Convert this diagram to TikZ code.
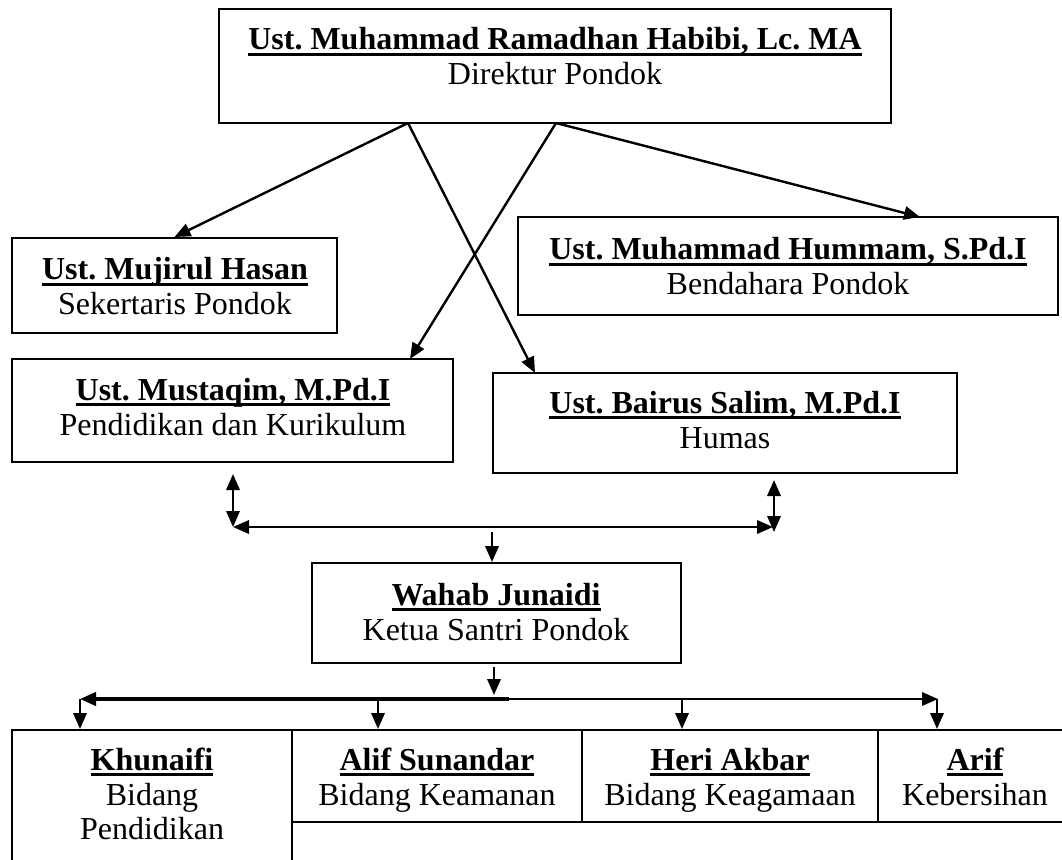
\documentclass[tikz,border=0pt]{standalone}
\usepackage{fontspec}
\setmainfont{Liberation Serif}
\usetikzlibrary{arrows.meta}
\frenchspacing

\newdimen\px \px=0.375pt
% nama dengan garis bawah tebal
\newcommand\nama[1]{\setbox0=\hbox{\bfseries #1}\rlap{\rule[-2.4pt]{\wd0}{1.2pt}}\box0}

\begin{document}
\begin{tikzpicture}[x=0.375pt,y=-0.375pt,>={Triangle[length=6pt,width=5pt]},font=\fontsize{12}{13}\selectfont]
    \tikzstyle{kotak}=[rectangle,draw,line width=0.75pt,inner sep=0pt]
    \tikzstyle{nama}=[anchor=base,inner sep=0pt]
    \tikzstyle{jabatan}=[anchor=base,inner sep=0pt]
    \tikzstyle{garis}=[->,line width=0.9pt]

    \useasboundingbox (0,0) rectangle (1062,859);
    \clip (0,0) rectangle (1062,859);

    % pengurus
    \node [kotak,minimum width=672\px,minimum height=114\px] (direktur) at (555,66) {};
    \node [nama]    (direkturN) at (555,50) {\nama{Ust. Muhammad Ramadhan Habibi, Lc. MA}};
    \node [jabatan] (direkturJ) at (555,85) {Direktur Pondok};

    \node [kotak,minimum width=325\px,minimum height=95\px] (sekretaris) at (174.5,285.5) {};
    \node [nama]    (sekretarisN) at (175,280) {\nama{Ust. Mujirul Hasan}};
    \node [jabatan] (sekretarisJ) at (175,315) {Sekertaris Pondok};

    \node [kotak,minimum width=540\px,minimum height=98\px] (bendahara) at (788,266) {};
    \node [nama]    (bendaharaN) at (788,260) {\nama{Ust. Muhammad Hummam, S.Pd.I}};
    \node [jabatan] (bendaharaJ) at (788,295) {Bendahara Pondok};

    \node [kotak,minimum width=441\px,minimum height=103\px] (kurikulum) at (232.5,410.5) {};
    \node [nama]    (kurikulumN) at (233,400) {\nama{Ust. Mustaqim, M.Pd.I}};
    \node [jabatan] (kurikulumJ) at (233,435) {Pendidikan dan Kurikulum};

    \node [kotak,minimum width=464\px,minimum height=100\px] (humas) at (725,423) {};
    \node [nama]    (humasN) at (725,413) {\nama{Ust. Bairus Salim, M.Pd.I}};
    \node [jabatan] (humasJ) at (725,448) {Humas};

    \node [kotak,minimum width=369\px,minimum height=100\px] (ketua) at (496.5,613) {};
    \node [nama]    (ketuaN) at (496,605) {\nama{Wahab Junaidi}};
    \node [jabatan] (ketuaJ) at (496,640) {Ketua Santri Pondok};

    % bidang
    \node [kotak,minimum width=280\px,minimum height=140\px] (pendidikan) at (152,800) {};
    \node [nama]    (pendidikanN) at (152,770) {\nama{Khunaifi}};
    \node [jabatan] (pendidikanJ) at (152,805) {Bidang};
    \node [jabatan] (pendidikanK) at (152,839) {Pendidikan};

    \node [kotak,minimum width=290\px,minimum height=92\px] (keamanan) at (437,776) {};
    \node [nama]    (keamananN) at (437,770) {\nama{Alif Sunandar}};
    \node [jabatan] (keamananJ) at (437,805) {Bidang Keamanan};

    \node [kotak,minimum width=296\px,minimum height=92\px] (keagamaan) at (730,776) {};
    \node [nama]    (keagamaanN) at (730,770) {\nama{Heri Akbar}};
    \node [jabatan] (keagamaanJ) at (730,805) {Bidang Keagamaan};

    \node [kotak,minimum width=194\px,minimum height=92\px] (kebersihan) at (975,776) {};
    \node [nama]    (kebersihanN) at (975,770) {\nama{Arif}};
    \node [jabatan] (kebersihanJ) at (975,805) {Kebersihan};

    % garis dari direktur
    \coordinate (d1) at (408,123);
    \coordinate (d2) at (556,123);
    \coordinate (tKurikulum) at (410,359);
    \coordinate (tHumas) at (535,373);
    \coordinate (tBendahara) at (920,217);
    \draw [garis] (d1) -- (sekretaris.north);
    \draw [garis] (d1) -- (tHumas);
    \draw [garis] (d2) -- (tKurikulum);
    \draw [garis] (d2) -- (tBendahara);

    % koordinasi
    \coordinate (k1) at (233,474);
    \coordinate (k2) at (233,527);
    \coordinate (k3) at (773,527);
    \coordinate (k4) at (774,480);
    \coordinate (k5) at (774,532);
    \coordinate (k6) at (492,532);
    \draw [<->,line width=0.9pt] (k1) -- (k2);
    \draw [<->,line width=0.9pt] (k2) -- (k3);
    \draw [<->,line width=0.9pt] (k4) -- (k5);
    \draw [garis] (k6) -- (k6 |- ketua.north);

    % ke bidang
    \coordinate (b0) at (494,667);
    \coordinate (b1) at (494,695);
    \coordinate (bTengah) at (509,699);
    \coordinate (bKiri) at (80,699);
    \coordinate (bKanan) at (938,699);
    \draw [garis] (b0) -- (b1);
    \draw [<-,line width=1.2pt] (bKiri) -- (bTengah);
    \draw [->,line width=0.8pt] (bTengah) -- (bKanan);
    \foreach \x/\b in {80/pendidikan,378/keamanan,682/keagamaan,937/kebersihan}
        \draw [garis] (\x,699) -- (\x,699 |- \b.north);

  \end{tikzpicture}
\end{document}
